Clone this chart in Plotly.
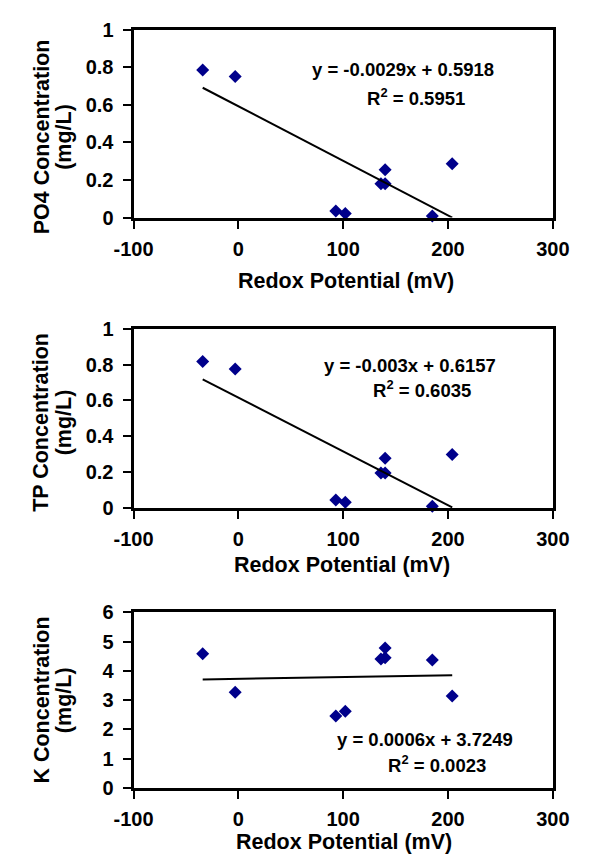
import plotly.graph_objects as go

# ---- data ----
redox = [-34, -3, 93, 102, 136, 140, 140, 185, 204]
po4 = [0.785, 0.75, 0.035, 0.022, 0.18, 0.18, 0.255, 0.008, 0.287]
tp = [0.817, 0.776, 0.045, 0.033, 0.195, 0.195, 0.278, 0.01, 0.298]
k = [4.58, 3.27, 2.45, 2.62, 4.40, 4.45, 4.78, 4.37, 3.14]

y_title_l1 = ["PO4 Concentration", "TP Concentration", "K Concentration"]
y_title_l2 = "(mg/L)"
x_title = "Redox Potential (mV)"
slopes = [-0.0029, -0.003, 0.0006]
intercepts = [0.5918, 0.6157, 3.7249]
eq_texts = ["y = -0.0029x + 0.5918", "y = -0.003x + 0.6157", "y = 0.0006x + 3.7249"]
r2_texts = ["R<sup>2</sup> = 0.5951", "R<sup>2</sup> = 0.6035", "R<sup>2</sup> = 0.0023"]
x_ticks = [-100, 0, 100, 200, 300]
x_ticktext = ["-100", "0", "100", "200", "300"]
y_ticks = [[0, 0.2, 0.4, 0.6, 0.8, 1], [0, 0.2, 0.4, 0.6, 0.8, 1], [0, 1, 2, 3, 4, 5, 6]]
y_ticktext = [["0", "0.2", "0.4", "0.6", "0.8", "1"], ["0", "0.2", "0.4", "0.6", "0.8", "1"],
              ["0", "1", "2", "3", "4", "5", "6"]]
y_ranges = [[0, 1], [0, 1], [0, 6]]

W, H = 598, 866
FONT = "Liberation Sans, Arial, sans-serif"
MARK = "#00008B"

# pixel geometry of each panel (left, right, top, bottom)
panels = [(121, 568, 19, 212), (121, 568, 326, 510), (121, 568, 617, 797)]
eq_pos = [((408, 60), (422, 88)), ((416, 364), (428, 388)), ((432, 748), (444, 773))]
xt_pos = [(347, 277), (343, 568), (345, 853)]
yt_y = [129, 422, 707]
yt_x = (23, 47)

series = [po4, tp, k]

def px(x):
    return x / W

def py(y):
    return 1 - y / H

def ann(text, x, y, size, angle=0):
    return dict(text="<b>" + text + "</b>", x=px(x), y=py(y), xref="paper", yref="paper",
                showarrow=False, xanchor="center", yanchor="middle", textangle=angle,
                font=dict(family=FONT, size=size, color="black"))

fig = go.Figure()
annotations = []
for i in range(3):
    n = "" if i == 0 else str(i + 1)
    l, r, t, b = panels[i]
    xa = "x" + n
    ya = "y" + n
    fig.add_trace(go.Scatter(
        x=redox, y=series[i], mode="markers", xaxis=xa, yaxis=ya,
        marker=dict(symbol="diamond", size=10, color=MARK, line=dict(width=0)),
        cliponaxis=False, showlegend=False))
    x0, x1 = min(redox), max(redox)
    fig.add_trace(go.Scatter(
        x=[x0, x1], y=[slopes[i] * x0 + intercepts[i], slopes[i] * x1 + intercepts[i]],
        mode="lines", xaxis=xa, yaxis=ya, line=dict(color="black", width=2),
        cliponaxis=False, showlegend=False))
    axis_common = dict(showline=True, linecolor="black", linewidth=3, mirror=True,
                       showgrid=False, zeroline=False, ticks="outside", ticklen=8,
                       tickwidth=1.5, tickcolor="black",
                       tickfont=dict(family=FONT, size=20, color="black"))
    fig.update_layout(**{
        "xaxis" + n: dict(domain=[px(l), px(r)], range=[-100, 300], tickvals=x_ticks,
                          ticktext=["<b>" + s + "</b>" for s in x_ticktext], anchor=ya,
                          ticklabelstandoff=3, **axis_common),
        "yaxis" + n: dict(domain=[py(b), py(t)], range=y_ranges[i], tickvals=y_ticks[i],
                          ticktext=["<b>" + s + "</b>" for s in y_ticktext[i]], anchor=xa,
                          ticklabelstandoff=5, **axis_common),
    })
    (ex, ey), (rx, ry) = eq_pos[i]
    annotations.append(ann(eq_texts[i], ex, ey, 18.5))
    annotations.append(ann(r2_texts[i], rx, ry, 18.5))
    tx, ty = xt_pos[i]
    annotations.append(ann(x_title, tx, ty, 21.5))
    annotations.append(ann(y_title_l1[i], yt_x[0], yt_y[i], 21.5, -90))
    annotations.append(ann(y_title_l2, yt_x[1], yt_y[i], 21.5, -90))

fig.update_layout(width=W, height=H, margin=dict(l=0, r=0, t=0, b=0),
                  paper_bgcolor="white", plot_bgcolor="white",
                  annotations=annotations, showlegend=False)

fig.write_html("out.html", config={"displayModeBar": False},
               post_script="document.body.style.margin='0';document.body.style.overflow='hidden';")
